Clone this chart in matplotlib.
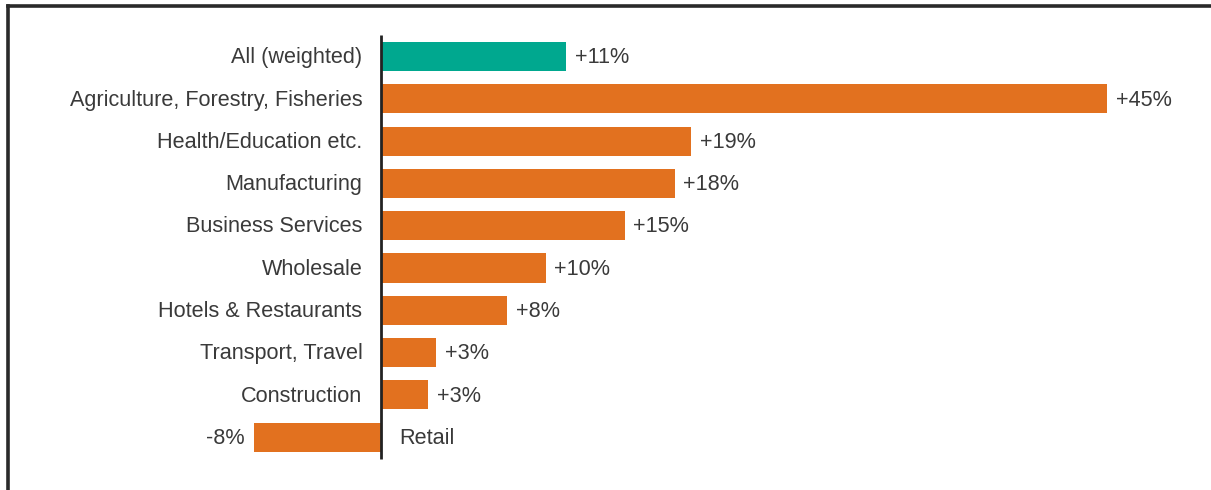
import matplotlib
matplotlib.use("Agg")
import matplotlib.pyplot as plt
from matplotlib.lines import Line2D

categories = [
    "All (weighted)",
    "Agriculture, Forestry, Fisheries",
    "Health/Education etc.",
    "Manufacturing",
    "Business Services",
    "Wholesale",
    "Hotels & Restaurants",
    "Transport, Travel",
    "Construction",
    "Retail",
]
changes = [11.5, 45.0, 19.2, 18.2, 15.1, 10.2, 7.8, 3.4, 2.9, -7.9]
value_labels = ["+11%", "+45%", "+19%", "+18%", "+15%", "+10%", "+8%", "+3%", "+3%", "-8%"]

ORANGE = "#E2711F"
TEAL = "#00A88F"
TEXT = "#3a3a3a"

plt.rcParams["font.family"] = ["Liberation Sans", "DejaVu Sans"]

fig = plt.figure(figsize=(12.11, 4.90), dpi=100)
ax = fig.add_axes([0, 0, 1, 1])

px_per_unit_x = 16.13
zero_px = 381
x_lo = -zero_px / px_per_unit_x
x_hi = (1211 - zero_px) / px_per_unit_x

row_px = 42.3
first_px = 56.5
y_top = -first_px / row_px
y_bot = (490 - first_px) / row_px

n = len(categories)
ypos = list(range(n))
colors = [TEAL] + [ORANGE] * (n - 1)
ax.barh(ypos, changes, height=0.69, color=colors, zorder=2)

fs = 15.6
gap = 0.55
for y, v, cat, lab in zip(ypos, changes, categories, value_labels):
    if v >= 0:
        ax.text(-1.15, y + 0.03, cat, ha="right", va="center", fontsize=fs, color=TEXT)
        ax.text(v + gap, y + 0.03, lab, ha="left", va="center", fontsize=fs, color=TEXT)
    else:
        ax.text(1.15, y + 0.03, cat, ha="left", va="center", fontsize=fs, color=TEXT)
        ax.text(v - gap, y + 0.03, lab, ha="right", va="center", fontsize=fs, color=TEXT)

# zero baseline
ax.plot([0, 0], [-0.5, n - 0.48], color="#222222", lw=2.0, zorder=3,
        solid_capstyle="butt")

ax.set_xlim(x_lo, x_hi)
ax.set_ylim(y_bot, y_top)
ax.axis("off")

# partial frame: top and left edges
fig.add_artist(Line2D([8 / 1211, 1.0], [1 - 6 / 490, 1 - 6 / 490],
                      transform=fig.transFigure, color="#2a2a2a", lw=2.6))
fig.add_artist(Line2D([8 / 1211, 8 / 1211], [0.0, 1 - 6 / 490],
                      transform=fig.transFigure, color="#2a2a2a", lw=2.6))

fig.savefig("out.png", dpi=100)
